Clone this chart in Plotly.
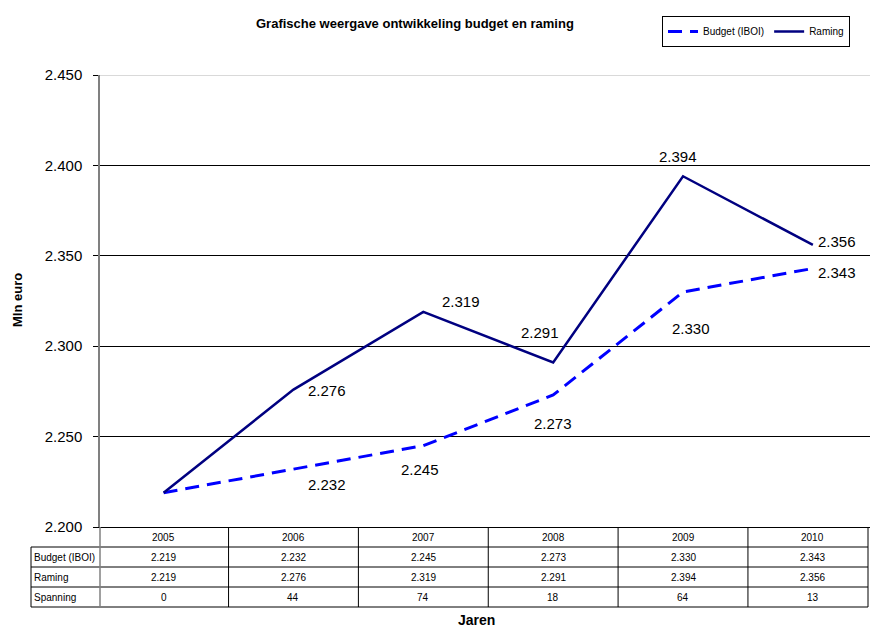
import plotly.graph_objects as go

years = ["2005", "2006", "2007", "2008", "2009", "2010"]
budget = [2219, 2232, 2245, 2273, 2330, 2343]
raming = [2219, 2276, 2319, 2291, 2394, 2356]
spanning = [0, 44, 74, 18, 64, 13]
row_labels = ["Budget (IBOI)", "Raming", "Spanning"]

FONT = "Arial, Liberation Sans, sans-serif"
W, H = 870, 628
L, T, B = 100, 75, 101
PW, PH = W - L, H - T - B
Y_MIN, Y_MAX = 2200, 2450


def xp(px):
    return (px - L) / PW


def yp(py):
    return (H - B - py) / PH


def fmt(v):
    return f"{v:,}".replace(",", ".")


fig = go.Figure()
fig.add_trace(go.Scatter(x=years, y=budget, mode="lines", name="Budget (IBOI)",
                         line=dict(color="#0000FF", width=3, dash="14px,8px")))
fig.add_trace(go.Scatter(x=years, y=raming, mode="lines", name="Raming",
                         line=dict(color="#000080", width=2.5)))

ann = []
# data labels (skip 2005)
r_off = [None, (34, -1), (38, 10), (-13, 30), (-5, 20), (24, 3)]
b_off = [None, (34, -15), (-3, -24), (0, -28), (8, -37), (24, -4)]
for i, y in enumerate(years):
    if r_off[i]:
        ann.append(dict(x=i, y=raming[i], xref="x", yref="y", text=fmt(raming[i]),
                        showarrow=False, xshift=r_off[i][0], yshift=r_off[i][1],
                        xanchor="center", yanchor="middle",
                        font=dict(size=15, color="black", family=FONT)))
    if b_off[i]:
        ann.append(dict(x=i, y=budget[i], xref="x", yref="y", text=fmt(budget[i]),
                        showarrow=False, xshift=b_off[i][0], yshift=b_off[i][1],
                        xanchor="center", yanchor="middle",
                        font=dict(size=15, color="black", family=FONT)))

# table texts
row_centers = [537, 557, 577, 597]
rows = [years, [fmt(v) for v in budget], [fmt(v) for v in raming], [str(v) for v in spanning]]
for r, vals in enumerate(rows):
    for i, y in enumerate(years):
        ann.append(dict(x=i, y=yp(row_centers[r]), xref="x", yref="paper", text=vals[i],
                        showarrow=False, font=dict(size=10, color="black", family=FONT),
                        xanchor="center", yanchor="middle"))
for r, lab in enumerate(row_labels):
    ann.append(dict(x=xp(32), y=yp(row_centers[r + 1]), xref="paper", yref="paper", text=lab,
                    showarrow=False, font=dict(size=10, color="black", family=FONT),
                    xanchor="left", yanchor="middle"))

# titles
ann.append(dict(x=xp(415), y=yp(23), xref="paper", yref="paper",
                text="<b>Grafische weergave ontwikkeling budget en raming</b>",
                xanchor="center", yanchor="middle",
                showarrow=False, font=dict(size=13, color="black", family=FONT)))
ann.append(dict(x=xp(17), y=yp(300), xref="paper", yref="paper", text="<b>Mln euro</b>",
                xanchor="center", yanchor="middle",
                textangle=-90, showarrow=False, font=dict(size=13, color="black", family=FONT)))
ann.append(dict(x=xp(476), y=yp(620), xref="paper", yref="paper", text="<b>Jaren</b>",
                xanchor="center", yanchor="middle",
                showarrow=False, font=dict(size=14, color="black", family=FONT)))

shapes = []
# light top line at the axis maximum
shapes.append(dict(type="line", xref="paper", yref="y", x0=0, x1=1, y0=Y_MAX, y1=Y_MAX,
                   line=dict(color="#d9d9d9", width=2)))
# horizontal table lines
for py in [547, 567, 587, 607]:
    shapes.append(dict(type="line", xref="paper", yref="paper", x0=xp(31), x1=xp(868),
                       y0=yp(py), y1=yp(py), line=dict(color="black", width=1)))
# vertical table lines
for k in range(1, 6):
    shapes.append(dict(type="line", xref="x", yref="paper", x0=k - 0.5, x1=k - 0.5,
                       y0=yp(527), y1=yp(607), line=dict(color="black", width=1)))
shapes.append(dict(type="line", xref="paper", yref="paper", x0=xp(868), x1=xp(868),
                   y0=yp(527), y1=yp(607), line=dict(color="black", width=1)))
shapes.append(dict(type="line", xref="paper", yref="paper", x0=xp(31), x1=xp(31),
                   y0=yp(547), y1=yp(607), line=dict(color="black", width=1)))
shapes.append(dict(type="line", xref="paper", yref="paper", x0=0, x1=0,
                   y0=yp(527), y1=yp(607), line=dict(color="#808080", width=1.5)))

fig.update_layout(
    width=W, height=H,
    margin=dict(l=L, r=0, t=T, b=B, autoexpand=False),
    paper_bgcolor="white", plot_bgcolor="white",
    separators=",.",
    font=dict(family=FONT, color="black"),
    showlegend=True,
    legend=dict(orientation="h", xref="container", yref="container",
                x=662 / W, y=1 - 16 / H, xanchor="left", yanchor="top",
                bordercolor="black", borderwidth=1, bgcolor="white",
                font=dict(size=10, family=FONT, color="black"),
                itemwidth=30, tracegroupgap=0),
    xaxis=dict(type="category", range=[-0.49, 5.44], showticklabels=False, ticks="",
               showgrid=False, zeroline=False, showline=True, linecolor="black", linewidth=1),
    yaxis=dict(range=[Y_MIN, Y_MAX], dtick=50, tickformat=",d", showgrid=True,
               gridcolor="black", gridwidth=1, zeroline=False, showline=True,
               linecolor="#808080", linewidth=1.5, ticks="outside", ticklen=5,
               ticklabelstandoff=8,
               tickcolor="black", tickfont=dict(size=15, family=FONT, color="black")),
    annotations=ann,
    shapes=shapes,
)

fig.write_html("out.html", config={"displayModeBar": False},
               post_script="document.body.style.margin='0px';")
